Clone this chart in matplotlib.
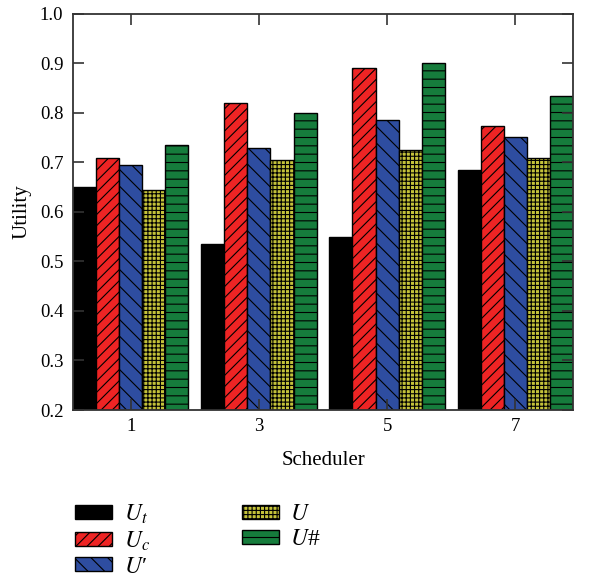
import matplotlib
matplotlib.use("Agg")
import matplotlib.pyplot as plt
import numpy as np

plt.rcParams['font.family'] = ['Liberation Serif', 'DejaVu Serif']
plt.rcParams['mathtext.fontset'] = 'stix'
plt.rcParams['hatch.linewidth'] = 0.8

# data
schedulers = ['1', '3', '5', '7']
labels = ['$U_t$', '$U_c$', '$U$\u2032', '$U$', '$U$#']
u_t = [0.65, 0.535, 0.55, 0.685]
u_c = [0.71, 0.82, 0.89, 0.773]
u_prime = [0.695, 0.73, 0.785, 0.752]
u_plain = [0.645, 0.705, 0.725, 0.71]
u_hash = [0.735, 0.80, 0.90, 0.835]

series = [u_t, u_c, u_prime, u_plain, u_hash]
colors = ['#000000', '#EE2424', '#2E4DA0', '#C4C23A', '#167C3C']
hatches = ['', '///', '\\\\', '++++', '--']

fig = plt.figure(figsize=(6, 5.8), dpi=100)
ax = fig.add_axes([0.1217, 0.2931, 0.8333, 0.6828])

x = np.arange(len(schedulers))
w = 0.18
for i, (vals, c, h, lab) in enumerate(zip(series, colors, hatches, labels)):
    ax.bar(x + (i - 2) * w, np.array(vals) - 0.2, w, bottom=0.2,
           color=c, edgecolor='black', hatch=h, linewidth=1.0, label=lab)

ax.set_xlim(-0.45, 3.45)
ax.set_ylim(0.2, 1.0)
ax.set_xticks(x)
ax.set_xticklabels(schedulers)
ax.set_yticks(np.arange(0.2, 1.01, 0.1))
ax.set_yticklabels(['%.1f' % v for v in np.arange(0.2, 1.01, 0.1)])
ax.tick_params(direction='in', length=8, width=1.2, top=True, right=True,
               labelsize=13.5, colors='#333333', labelcolor='black')
ax.tick_params(axis='x', pad=6)
ax.tick_params(axis='y', pad=7)
for s in ax.spines.values():
    s.set_linewidth(1.3)
    s.set_color('#333333')

ax.set_xlabel('Scheduler', fontsize=15, labelpad=11)
ax.set_ylabel('Utility', fontsize=15, labelpad=6)

fig.legend(loc='upper left', bbox_to_anchor=(0.11, 0.15), ncol=2,
           frameon=False, fontsize=17, handlelength=1.55, handleheight=0.5,
           labelspacing=0.16, columnspacing=3.9, handletextpad=0.5,
           borderaxespad=0)

fig.savefig('out.png', dpi=100)
